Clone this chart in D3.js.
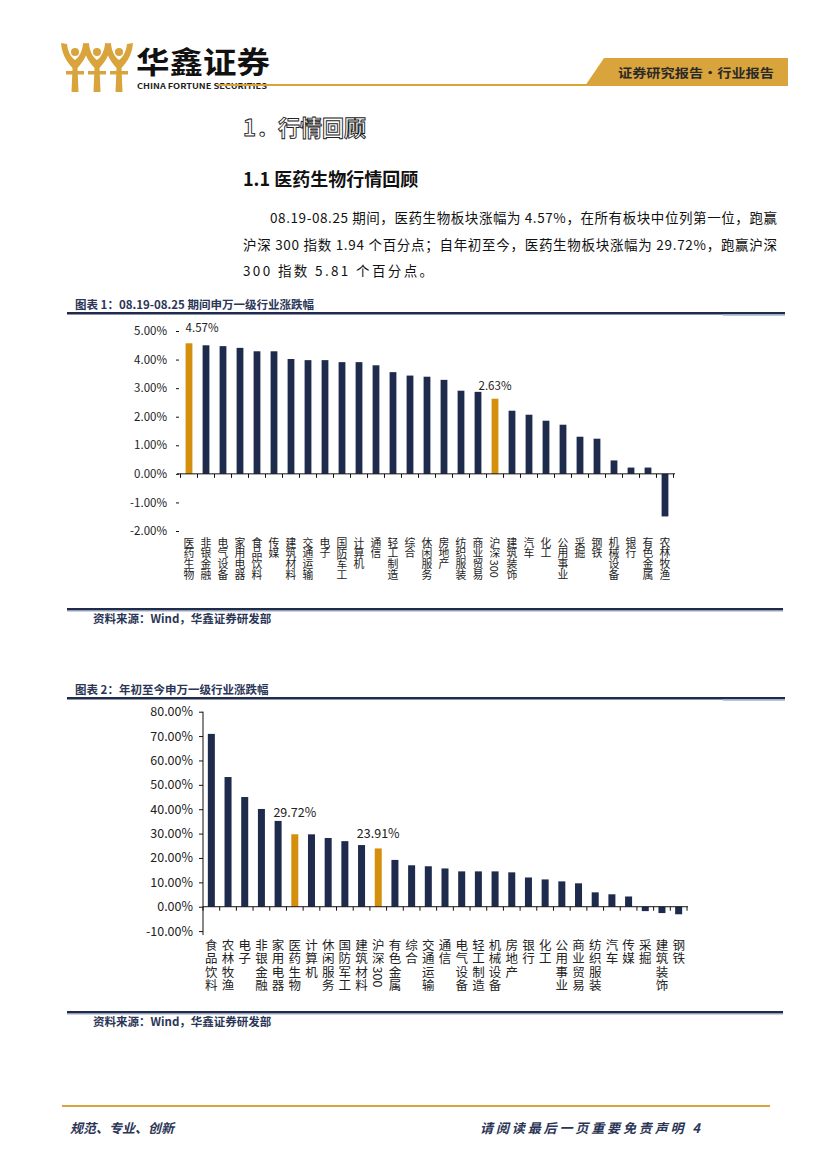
<!DOCTYPE html>
<html>
<head>
<meta charset="utf-8">
<script src="https://cdn.jsdelivr.net/npm/d3@7"></script>
<style>
  html, body { margin: 0; padding: 0; background: #fff; }
  svg { display: block; }
  text { font-family: "Noto Sans CJK SC", "Liberation Sans", sans-serif; }
  .vlab { writing-mode: vertical-rl; text-orientation: mixed; }
</style>
</head>
<body>
<svg id="page" width="827" height="1169"></svg>
<script>
// chart 1: 08.19-08.25 weekly change (%)
const cats1 = ['医药生物', '非银金融', '电气设备', '家用电器', '食品饮料', '传媒', '建筑材料', '交通运输', '电子', '国防军工',
  '计算机', '通信', '轻工制造', '综合', '休闲服务', '房地产', '纺织服装', '商业贸易', '沪深300', '建筑装饰',
  '汽车', '化工', '公用事业', '采掘', '钢铁', '机械设备', '银行', '有色金属', '农林牧渔']
const vals1 = [4.57, 4.50, 4.47, 4.41, 4.29, 4.29, 4.02, 3.98, 3.98, 3.91,
  3.91, 3.80, 3.56, 3.44, 3.40, 3.29, 2.91, 2.87, 2.63, 2.21,
  2.07, 1.86, 1.72, 1.30, 1.23, 0.47, 0.22, 0.22, -1.49]
const ticks1 = [-2, -1, 0, 1, 2, 3, 4, 5]

// chart 2: year-to-date change (%)
const cats2 = ['食品饮料', '农林牧渔', '电子', '非银金融', '家用电器', '医药生物', '计算机', '休闲服务', '国防军工', '建筑材料',
  '沪深300', '有色金属', '综合', '交通运输', '通信', '电气设备', '轻工制造', '机械设备', '房地产', '银行',
  '化工', '公用事业', '商业贸易', '纺织服装', '汽车', '传媒', '采掘', '建筑装饰', '钢铁']
const vals2 = [70.9, 53.2, 45.0, 40.1, 35.2, 29.72, 29.7, 28.2, 26.9, 25.3,
  23.91, 19.2, 17.0, 16.6, 15.7, 14.5, 14.5, 14.5, 14.1, 12.0,
  11.2, 10.4, 9.6, 5.9, 5.1, 4.2, -1.8, -2.6, -3.1]
const ticks2 = [-10, 0, 10, 20, 30, 40, 50, 60, 70, 80]

// highlighted bars (gold, with value label)
const hl = ['医药生物', '沪深300']

const NAVY = '#1f2b4d'
const GOLD = '#d4900c'
const HEAD_GOLD = '#d9a43c'

const svg = d3.select('#page')

// ---------- page header ----------
const logo = svg.append('g')
;[75, 97, 119].forEach((cx) => {
  logo.append('path')
    .attr('d', `M${cx - 3.5},92 L${cx - 2.5},68 C${cx - 7},63 ${cx - 13},56 ${cx - 14},43 L${cx - 8},44
      C${cx - 7},53 ${cx - 3},58 ${cx},60 C${cx + 3},58 ${cx + 7},53 ${cx + 8},44 L${cx + 14},43
      C${cx + 13},56 ${cx + 7},63 ${cx + 2.5},68 L${cx + 3.5},92 Z`)
    .attr('fill', HEAD_GOLD)
  logo.append('circle').attr('cx', cx).attr('cy', 52).attr('r', 4).attr('fill', HEAD_GOLD)
  logo.append('rect').attr('x', cx - 9).attr('y', 71).attr('width', 18).attr('height', 3.5).attr('fill', HEAD_GOLD)
})
logo.append('text').attr('x', 136).attr('y', 73).attr('font-size', 30).attr('font-weight', 700)
  .attr('textLength', 134).attr('lengthAdjust', 'spacingAndGlyphs').attr('fill', '#111').text('华鑫证券')
logo.append('text').attr('x', 137).attr('y', 89).attr('font-size', 7.5).attr('font-weight', 700)
  .attr('font-family', 'Liberation Sans').attr('textLength', 130).attr('lengthAdjust', 'spacingAndGlyphs')
  .attr('fill', '#222').text('CHINA FORTUNE SECURITIES')

svg.append('rect').attr('x', 218).attr('y', 84).attr('width', 380).attr('height', 2).attr('fill', HEAD_GOLD)
svg.append('path').attr('d', 'M604,58 L788,58 L788,86 L585,86 Z').attr('fill', HEAD_GOLD)
svg.append('text').attr('x', 618).attr('y', 78).attr('font-size', 12.5).attr('font-weight', 700)
  .attr('textLength', 156).attr('lengthAdjust', 'spacingAndGlyphs').attr('fill', '#2a2a2a')
  .text('证券研究报告•行业报告')

// ---------- headings & paragraph ----------
svg.append('text').attr('x', 243).attr('y', 136).attr('font-size', 22).attr('font-weight', 700)
  .attr('fill', '#fff').attr('stroke', '#222').attr('stroke-width', 0.9).text('1．行情回顾')
svg.append('text').attr('x', 243).attr('y', 186).attr('font-size', 18).attr('font-weight', 700)
  .attr('fill', '#111').text('1.1 医药生物行情回顾')

const para = [
  { x: 270, y: 223, w: 507, t: '08.19-08.25 期间，医药生物板块涨幅为 4.57%，在所有板块中位列第一位，跑赢' },
  { x: 243, y: 250, w: 534, t: '沪深 300 指数 1.94 个百分点；自年初至今，医药生物板块涨幅为 29.72%，跑赢沪深' },
  { x: 243, y: 276, w: 190, t: '300 指数 5.81 个百分点。' }
]
para.forEach((p) => {
  svg.append('text').attr('x', p.x).attr('y', p.y).attr('font-size', 13.5).attr('fill', '#111')
    .attr('textLength', p.w).attr('lengthAdjust', 'spacing').text(p.t)
})

// ---------- chart frame helpers ----------
function frameTitle(y, title) {
  svg.append('text').attr('x', 75).attr('y', y).attr('font-size', 11.5).attr('font-weight', 700)
    .attr('fill', '#2b3656').text(title)
  svg.append('rect').attr('x', 67).attr('y', y + 3).attr('width', 718).attr('height', 2.5).attr('fill', NAVY)
  svg.append('rect').attr('x', 723).attr('y', y + 5.5).attr('width', 62).attr('height', 1.5).attr('fill', '#b9c7dc')
}
function frameSource(y) {
  svg.append('rect').attr('x', 67).attr('y', y).attr('width', 716).attr('height', 2.5).attr('fill', NAVY)
  svg.append('rect').attr('x', 67).attr('y', y + 2.5).attr('width', 716).attr('height', 1).attr('fill', '#9aa6bd')
  svg.append('text').attr('x', 93).attr('y', y + 15).attr('font-size', 11.5).attr('font-weight', 700)
    .attr('fill', '#2b3656').text('资料来源：Wind，华鑫证券研发部')
}

// one text per character, stacked downwards; "300" is set sideways
function verticalLabel(g, name, cx, top, row, fs) {
  const chars = [...name.replace('300', '')]
  chars.forEach((c, i) => {
    g.append('text').attr('class', 'vlab').attr('x', cx).attr('y', top + i * row)
      .attr('font-size', fs).attr('fill', '#222').text(c)
  })
  if (name.includes('300')) {
    g.append('text').attr('class', 'vlab').attr('x', cx).attr('y', top + chars.length * row + 1)
      .attr('font-size', fs).attr('font-family', 'Liberation Serif').attr('fill', '#222').text('300')
  }
}

function drawChart(opt) {
  const g = svg.append('g')
  const x = d3.scaleBand().domain(opt.cats).range(opt.xRange)
    .paddingInner(opt.pad).paddingOuter(opt.pad / 2)
  const y = d3.scaleLinear().domain(d3.extent(opt.ticks)).range(opt.yRange)

  // y axis
  const yAxis = g.append('g').attr('transform', `translate(${opt.yAxisX},0)`)
    .call(d3.axisLeft(y).tickValues(opt.ticks).tickSize(opt.yTick).tickPadding(opt.yPad)
      .tickFormat((d) => d.toFixed(2) + '%'))
  yAxis.selectAll('text').attr('font-size', opt.yFont).attr('font-family', opt.yFamily).attr('fill', '#222')
  yAxis.selectAll('line').attr('stroke', '#111')
  if (opt.yLine) yAxis.select('.domain').attr('stroke', '#111').attr('d', `M0,${y(d3.max(opt.ticks))}V${y(d3.min(opt.ticks)) + 4}`)
  else yAxis.select('.domain').remove()

  // bars
  g.selectAll('rect.bar').data(opt.cats).enter().append('rect')
    .attr('class', 'bar')
    .attr('x', (d) => x(d))
    .attr('width', x.bandwidth())
    .attr('y', (d, i) => y(Math.max(0, opt.vals[i])))
    .attr('height', (d, i) => Math.abs(y(opt.vals[i]) - y(0)))
    .attr('fill', (d) => hl.includes(d) ? GOLD : NAVY)

  // x axis line with ticks at band boundaries
  const y0 = y(0)
  g.append('line').attr('x1', opt.xLine[0]).attr('x2', opt.xLine[1]).attr('y1', y0).attr('y2', y0)
    .attr('stroke', '#111').attr('stroke-width', 1)
  const step = x.step()
  d3.range(opt.cats.length + 1).forEach((i) => {
    const tx = opt.xRange[0] + i * step
    g.append('line').attr('x1', tx).attr('x2', tx).attr('y1', y0).attr('y2', y0 + 4)
      .attr('stroke', '#111').attr('stroke-width', 1)
  })

  // value labels on highlighted bars
  opt.cats.forEach((c, i) => {
    if (!hl.includes(c)) return
    const first = i === 0
    g.append('text')
      .attr('x', first ? x(c) : x(c) + x.bandwidth() / 2)
      .attr('y', y(opt.vals[i]) + opt.labelDy[hl.indexOf(c)])
      .attr('text-anchor', first ? 'start' : 'middle')
      .attr('font-size', opt.labelFont).attr('font-family', 'Liberation Sans').attr('fill', '#222')
      .text(opt.vals[i].toFixed(2) + '%')
  })

  // category labels
  opt.cats.forEach((c) => {
    verticalLabel(g, c, x(c) + x.bandwidth() / 2, opt.catTop, opt.catRow, opt.catFont)
  })
}

// ---------- chart 1 ----------
frameTitle(309, '图表 1：08.19-08.25 期间申万一级行业涨跌幅')
drawChart({
  cats: cats1, vals: vals1, ticks: ticks1,
  xRange: [180.5, 673.5], xLine: [177, 675], pad: 0.6,
  yRange: [531, 331], yAxisX: 179, yTick: 3, yPad: 9, yFont: 11.5, yFamily: 'Liberation Sans', yLine: false,
  labelDy: [-11, -9], labelFont: 11.5,
  catTop: 537, catRow: 10.9, catFont: 10.8
})
frameSource(608)

// ---------- chart 2 ----------
frameTitle(694, '图表 2：年初至今申万一级行业涨跌幅')
drawChart({
  cats: cats2, vals: vals2, ticks: ticks2,
  xRange: [203, 687], xLine: [203, 688], pad: 0.58,
  yRange: [931.1, 711.7], yAxisX: 203, yTick: 4, yPad: 6, yFont: 12.5, yFamily: 'Liberation Serif', yLine: true,
  labelDy: [-17, -10], labelFont: 12.5,
  catTop: 939, catRow: 13.3, catFont: 12.5
})
frameSource(1011)

// ---------- footer ----------
svg.append('rect').attr('x', 62).attr('y', 1105).attr('width', 708).attr('height', 2).attr('fill', HEAD_GOLD)
svg.append('text').attr('x', 70).attr('y', 1133).attr('font-size', 13).attr('font-weight', 700)
  .attr('font-style', 'italic').attr('fill', '#2b3656').text('规范、专业、创新')
svg.append('text').attr('x', 480).attr('y', 1133).attr('font-size', 13).attr('font-weight', 700)
  .attr('font-style', 'italic').attr('textLength', 220).attr('lengthAdjust', 'spacing')
  .attr('fill', '#2b3656').text('请阅读最后一页重要免责声明 4')
</script>
</body>
</html>
